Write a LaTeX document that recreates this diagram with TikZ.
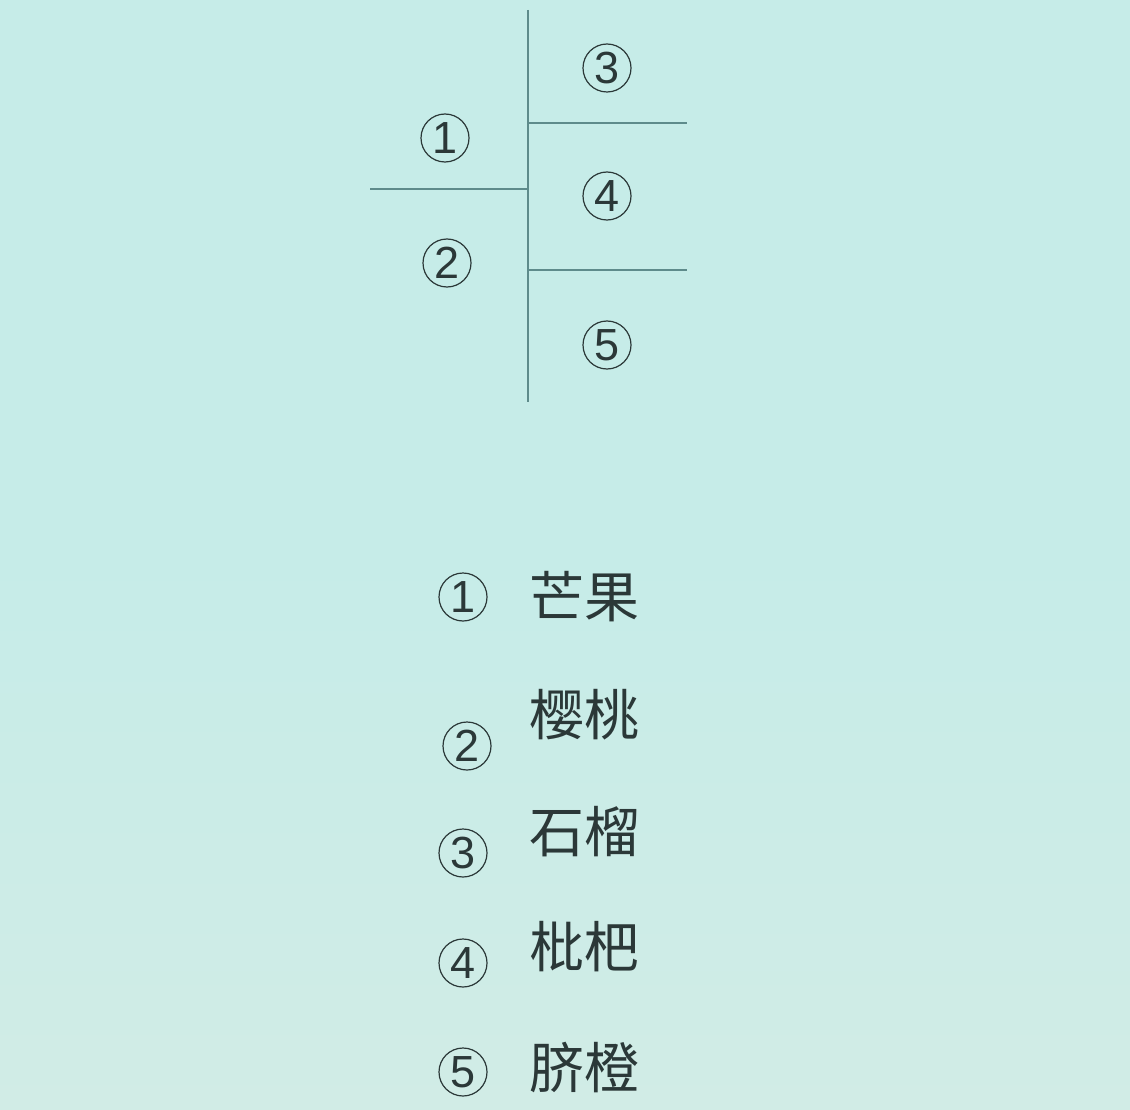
\documentclass[tikz,border=0pt]{standalone}
\usepackage{fontspec}
\newfontfamily\cjk{Noto Sans CJK SC}
\newfontfamily\digfont{Liberation Sans}
\definecolor{bgtop}{HTML}{C6ECE8}
\definecolor{bgbot}{HTML}{D1ECE6}
\definecolor{linec}{HTML}{5E8B8B}
\definecolor{txt}{HTML}{2B3838}
\tikzset{
  num/.style={circle, draw=txt, line width=1.2pt, minimum size=48pt, inner sep=0pt,
    font=\digfont\fontsize{45}{45}\selectfont, text=txt},
  fruit/.style={font=\cjk\fontsize{55}{55}\selectfont, text=txt, inner sep=0pt},
  rule/.style={draw=linec, line width=1.6pt}
}
\begin{document}
\begin{tikzpicture}[x=1pt,y=-1pt]
\shade[top color=bgtop, bottom color=bgbot, middle color=bgtop] (0,0) rectangle (1130,1110);
\useasboundingbox (0,0) rectangle (1130,1110);
% tree lines
\coordinate (vt) at (528,10);
\coordinate (vb) at (528,402);
\coordinate (l1) at (370,189);
\coordinate (l1e) at (528,189);
\coordinate (r1) at (528,123);
\coordinate (r1e) at (687,123);
\coordinate (r2) at (528,270);
\coordinate (r2e) at (687,270);
\draw[rule] (vt) -- (vb);
\draw[rule] (l1) -- (l1e);
\draw[rule] (r1) -- (r1e);
\draw[rule] (r2) -- (r2e);
\node[num] (t1) at (445,138) {1};
\node[num] (t2) at (447,263) {2};
\node[num] (t3) at (607,68) {3};
\node[num] (t4) at (607,196) {4};
\node[num] (t5) at (607,345) {5};
% legend
\node[num] (n1) at (463,597) {1};
\node[num] (n2) at (467,746) {2};
\node[num] (n3) at (463,853) {3};
\node[num] (n4) at (463,963) {4};
\node[num] (n5) at (463,1072) {5};
\node[fruit] (f1) at (584,597) {芒果};
\node[fruit] (f2) at (584,715) {樱桃};
\node[fruit] (f3) at (584,832) {石榴};
\node[fruit] (f4) at (584,947) {枇杷};
\node[fruit] (f5) at (584,1067) {脐橙};
\end{tikzpicture}
\end{document}
